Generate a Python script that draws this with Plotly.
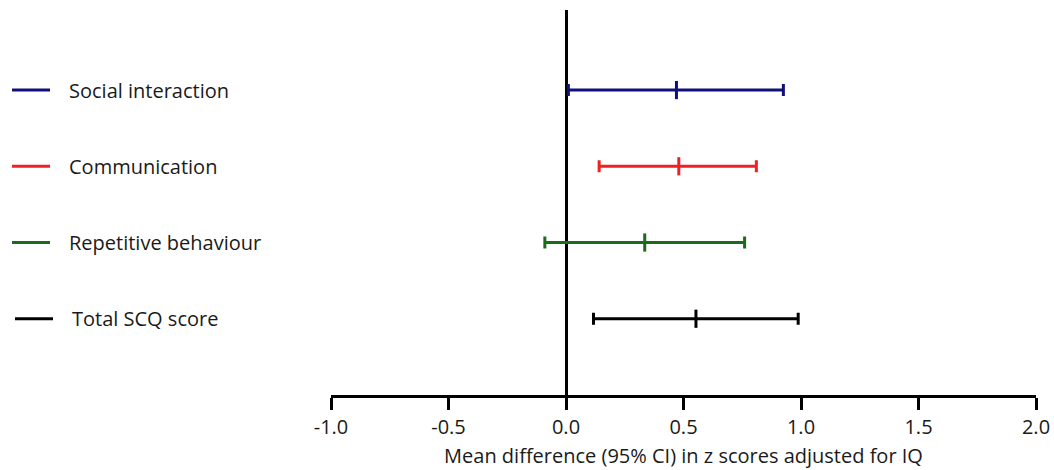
import plotly.graph_objects as go

categories = ["Social interaction", "Communication", "Repetitive behaviour", "Total SCQ score"]
means = [0.47, 0.48, 0.335, 0.553]
lower = [0.01, 0.141, -0.09, 0.117]
upper = [0.925, 0.81, 0.76, 0.988]
rows = [4, 3, 2, 1]
colors = ["#10107a", "#ee2222", "#1c6b1c", "#000000"]
x_ticks = [-1.0, -0.5, 0.0, 0.5, 1.0, 1.5, 2.0]

FONT = "Open Sans"
FS = 20

L, R, T, B = 331, 18, 10, 75
W, H = 1054, 470
PW = W - L - R

fig = go.Figure()
for name, m, lo, hi, r, c in zip(categories, means, lower, upper, rows, colors):
    fig.add_trace(go.Scatter(
        x=[m], y=[r], mode="markers", name=name, showlegend=False,
        marker=dict(symbol="line-ns", size=13, color=c, line=dict(color=c, width=3)),
        error_x=dict(type="data", symmetric=False, array=[hi - m], arrayminus=[m - lo],
                     color=c, thickness=3, width=6),
    ))

# legend-like labels on the left
for i, (name, r, c) in enumerate(zip(categories, rows, colors)):
    off = 3 if i == 3 else 0
    fig.add_shape(type="line", xref="paper", yref="y",
                  x0=(12 + off - L) / PW, x1=(50 + off - L) / PW, y0=r, y1=r,
                  line=dict(color=c, width=3))
    fig.add_annotation(xref="paper", yref="y", x=(67 + off - L) / PW, y=r,
                       text=name, showarrow=False, xanchor="left", yanchor="middle",
                       font=dict(family=FONT, size=FS, color="#1a1a1a"))

fig.update_layout(
    width=W, height=H,
    margin=dict(l=L, r=R, t=T, b=B, autoexpand=False),
    paper_bgcolor="white", plot_bgcolor="white",
    xaxis=dict(range=[-1.0, 2.0], tickvals=x_ticks,
               ticktext=[f"{v:.1f}" for v in x_ticks],
               automargin=False, ticklabeloverflow="allow",
               showgrid=False, zeroline=True, zerolinecolor="black", zerolinewidth=3,
               showline=True, linecolor="black", linewidth=3,
               ticks="outside", ticklen=12, tickwidth=3, tickcolor="black",
               tickfont=dict(family=FONT, size=FS, color="#1a1a1a"),
               title=dict(text="Mean difference (95% CI) in z scores adjusted for IQ",
                          font=dict(family=FONT, size=FS, color="#1a1a1a"), standoff=10)),
    yaxis=dict(range=[0, 5.05], visible=False, showgrid=False, zeroline=False,
               automargin=False),
)

fig.write_html("out.html", config={"displayModeBar": False},
               post_script="document.body.style.margin='0';")
